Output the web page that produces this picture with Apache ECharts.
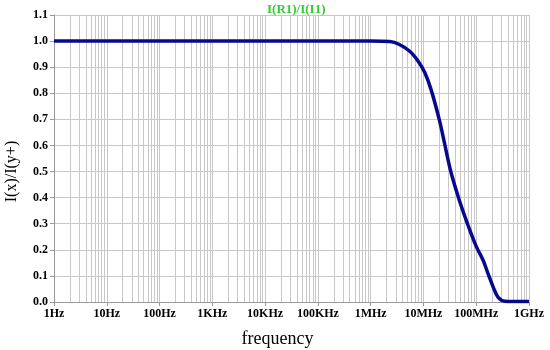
<!DOCTYPE html>
<html><head><meta charset="utf-8">
<script src="https://cdn.jsdelivr.net/npm/echarts@6/dist/echarts.min.js"></script>
<style>html,body{margin:0;padding:0;background:#fff}#c{width:550px;height:350px}</style>
</head><body><div id="c"></div>
<script>
const freqLabels = ['1Hz','10Hz','100Hz','1KHz','10KHz','100KHz','1MHz','10MHz','100MHz','1GHz'];
const freqs = [1, 10, 100, 1e3, 1e4, 1e5, 1e6, 2.3e6, 3.5e6, 5.5e6, 8e6, 1.07e7, 1.4e7, 2e7, 2.5e7, 3.3e7, 4.7e7, 7e7, 1e8, 1.35e8, 1.68e8, 2.1e8, 2.6e8, 3.5e8, 5e8, 1e9];
const ratio = [1.0, 1.0, 1.0, 1.0, 1.0, 1.0, 1.0, 0.998, 0.987, 0.961, 0.922, 0.878, 0.813, 0.698, 0.61, 0.50, 0.395, 0.294, 0.213, 0.16, 0.108, 0.057, 0.018, 0.003, 0.002, 0.002];

const minorLines = [];
for (let d = 0; d < 9; d++) for (let k = 2; k <= 9; k++) minorLines.push({xAxis: k * Math.pow(10, d)});

const lblFont = {fontFamily: 'Liberation Serif', fontWeight: 'bold', fontSize: 12, color: '#000'};
const chart = echarts.init(document.getElementById('c'), null, {renderer: 'canvas'});
chart.setOption({
  animation: false,
  title: {text: 'I(R1)/I(I1)', left: 262, top: -2,
    textStyle: {fontFamily: 'Liberation Serif', fontWeight: 'bold', fontSize: 13, color: '#33cc33'}},
  grid: {left: 54, right: 21, top: 15, bottom: 48, outerBoundsMode: 'none', containLabel: false},
  xAxis: {type: 'log', logBase: 10, min: 1, max: 1e9,
    name: 'frequency', nameLocation: 'middle', nameGap: 28,
    nameTextStyle: {fontFamily: 'Liberation Serif', fontSize: 18, color: '#000', padding: [0, 28, 0, 0]},
    axisLine: {lineStyle: {color: '#999'}},
    axisTick: {show: true, length: 4, lineStyle: {color: '#999'}},
    axisLabel: {...lblFont, margin: 6, formatter: v => freqLabels[Math.round(Math.log10(v))]},
    splitLine: {show: true, lineStyle: {color: '#c8c8c8', width: 1}},
    minorTick: {show: false}, minorSplitLine: {show: false}},
  yAxis: {type: 'value', min: 0, max: 1.1, interval: 0.1,
    name: 'I(x)/I(y+)', nameLocation: 'middle', nameGap: 34,
    nameTextStyle: {fontFamily: 'Liberation Serif', fontSize: 16, color: '#000', padding: [0, 26, 0, 0]},
    axisLine: {show: true, lineStyle: {color: '#999'}},
    axisTick: {show: true, length: 4, lineStyle: {color: '#999'}},
    axisLabel: {...lblFont, margin: 6, formatter: v => v.toFixed(1)},
    splitLine: {show: true, lineStyle: {color: '#c8c8c8', width: 1}}},
  series: [{
    type: 'line', data: freqs.map((f, i) => [f, ratio[i]]),
    smooth: 0.35, showSymbol: false, z: 5,
    lineStyle: {color: '#08088f', width: 3.5},
    markLine: {silent: true, symbol: ['none', 'none'], label: {show: false},
      lineStyle: {color: '#c8c8c8', type: 'solid', width: 1}, data: minorLines, z: 1, animation: false}
  }]
});
</script></body></html>
